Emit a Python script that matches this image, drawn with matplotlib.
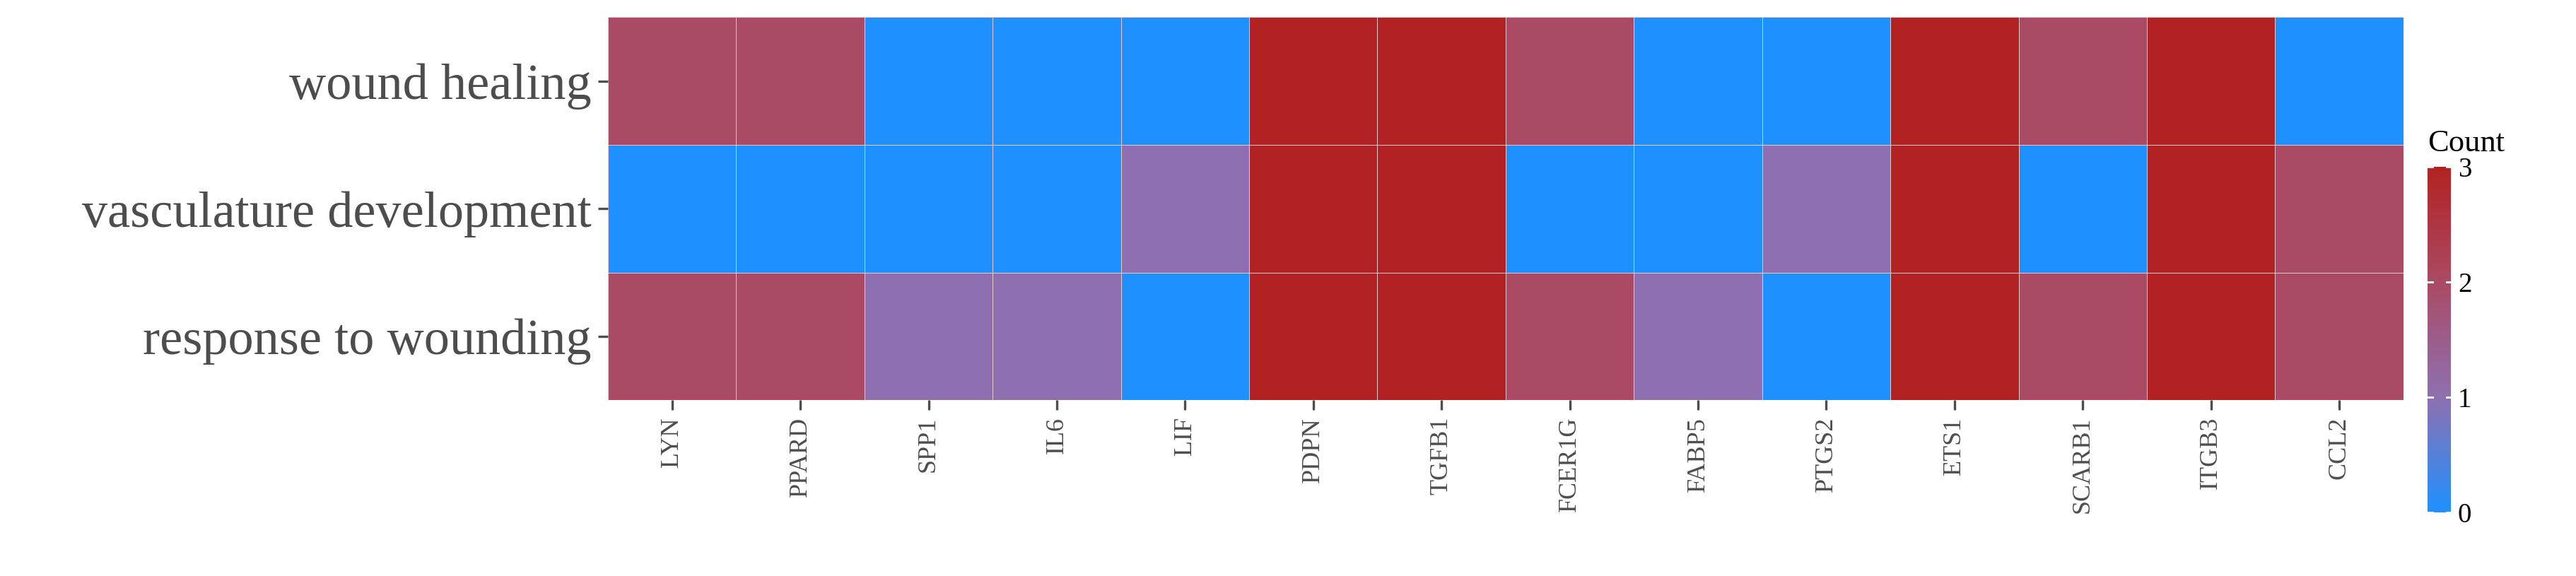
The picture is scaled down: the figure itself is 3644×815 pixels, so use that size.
import numpy as np
import matplotlib.pyplot as plt
from matplotlib.colors import LinearSegmentedColormap

genes = ["LYN", "PPARD", "SPP1", "IL6", "LIF", "PDPN", "TGFB1", "FCER1G",
         "FABP5", "PTGS2", "ETS1", "SCARB1", "ITGB3", "CCL2"]
terms = ["wound healing", "vasculature development", "response to wounding"]
wound_healing = [2, 2, 0, 0, 0, 3, 3, 2, 0, 0, 3, 2, 3, 0]
vasculature_development = [0, 0, 0, 0, 1, 3, 3, 0, 0, 1, 3, 0, 3, 2]
response_to_wounding = [2, 2, 1, 1, 0, 3, 3, 2, 1, 0, 3, 2, 3, 2]

plt.rcParams['font.family'] = ['Liberation Serif', 'DejaVu Serif']
cmap = LinearSegmentedColormap.from_list(
    "cnt", [(0, "#1E90FF"), (1/3, "#8E70B0"), (2/3, "#AA4A64"), (1, "#B22222")])

data = np.array([wound_healing, vasculature_development, response_to_wounding])

fig = plt.figure(figsize=(18.22, 4.075), dpi=200)
ax = fig.add_axes([0.236, 0.305, 0.697, 0.665])
im = ax.pcolormesh(data, cmap=cmap, vmin=0, vmax=3, edgecolor='#e8c8cc', linewidth=0.3)
ax.set_xlim(0, len(genes))
ax.set_ylim(len(terms), 0)
ax.set_xticks(np.arange(len(genes)) + 0.5)
ax.set_xticklabels(genes, rotation=90, fontsize=13, color='#4D4D4D')
ax.set_yticks(np.arange(len(terms)) + 0.5)
ax.set_yticklabels(terms, fontsize=26, color='#4D4D4D')
ax.tick_params(color='#4D4D4D', length=5, width=1.2)
for s in ax.spines.values():
    s.set_visible(False)

cax = fig.add_axes([0.9425, 0.11, 0.009, 0.6])
cb = fig.colorbar(im, cax=cax, ticks=[0, 1, 2, 3])
cb.outline.set_visible(False)
cb.ax.tick_params(labelsize=14, length=0)
cax.set_title("Count", fontsize=16, loc='left', pad=8)
for t in [0, 1, 2, 3]:
    cax.plot([0, 0.2], [t, t], color='white', lw=1, transform=cax.get_yaxis_transform())
    cax.plot([0.8, 1], [t, t], color='white', lw=1, transform=cax.get_yaxis_transform())

fig.savefig("out.png", dpi=200)
